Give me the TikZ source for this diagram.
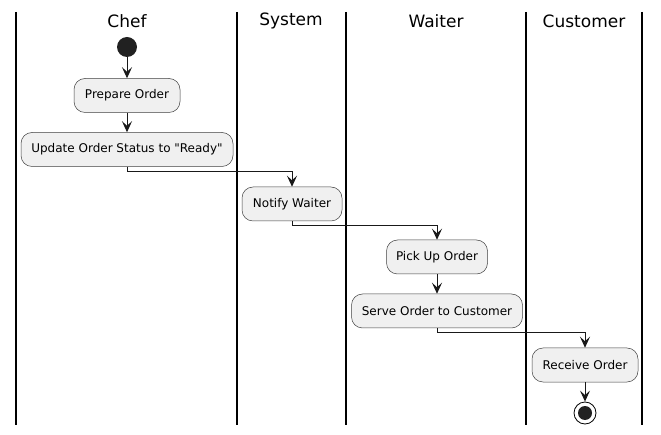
\documentclass[tikz,border=0pt]{standalone}
\usepackage{fontspec}
\setmainfont{DejaVu Sans}[Ligatures=TeXOff]
\usetikzlibrary{arrows.meta}
\begin{document}
\begin{tikzpicture}[x=1pt,y=-1pt,
  act/.style={draw=black!75,line width=0.5pt,fill=black!6,rounded corners=11pt,minimum height=34pt,inner sep=0pt,font=\fontsize{12}{14}\selectfont,anchor=center},
  lane/.style={line width=1.3pt,black},
  title/.style={font=\fontsize{17}{20}\selectfont},
  flow/.style={line width=1pt,black!90,-{Stealth[length=11pt,width=10pt,inset=4.5pt]}}]
\useasboundingbox (0,0) rectangle (661,435);
\foreach \x in {16,237,346,526,642} \draw[lane] (\x,12) -- (\x,425);
\node[title] (t1) at (127,21) {Chef};
\node[title] (t2) at (291,21) {System};
\node[title] (t3) at (436,21) {Waiter};
\node[title] (t4) at (584,21) {Customer};
\node[circle,fill=black!87,minimum size=20pt,inner sep=0pt] (start) at (127,47) {};
\node[act,minimum width=106pt] (a1) at (127,95.5) {Prepare Order};
\node[act,minimum width=212pt] (a2) at (127,149.5) {Update Order Status to "Ready"};
\node[act,minimum width=100pt] (a3) at (292,204) {Notify Waiter};
\node[act,minimum width=101pt] (a4) at (437,257) {Pick Up Order};
\node[act,minimum width=171pt] (a5) at (437,311) {Serve Order to Customer};
\node[act,minimum width=106pt] (a6) at (585,365) {Receive Order};
\node[circle,draw=black,line width=0.8pt,fill=white,minimum size=22pt,inner sep=0pt] (end) at (585,413) {};
\node[circle,fill=black!87,minimum size=14pt,inner sep=0pt] (endin) at (end) {};
\coordinate (c1) at (127,172);
\coordinate (c2) at (292,226);
\coordinate (c3) at (437,333);
\draw[flow] (start) -- (a1);
\draw[flow] (a1) -- (a2);
\draw[flow] (a2.south) -- (c1) -| (a3.north);
\draw[flow] (a3.south) -- (c2) -| (a4.north);
\draw[flow] (a4) -- (a5);
\draw[flow] (a5.south) -- (c3) -| (a6.north);
\draw[flow] (a6) -- (end);
\end{tikzpicture}
\end{document}
